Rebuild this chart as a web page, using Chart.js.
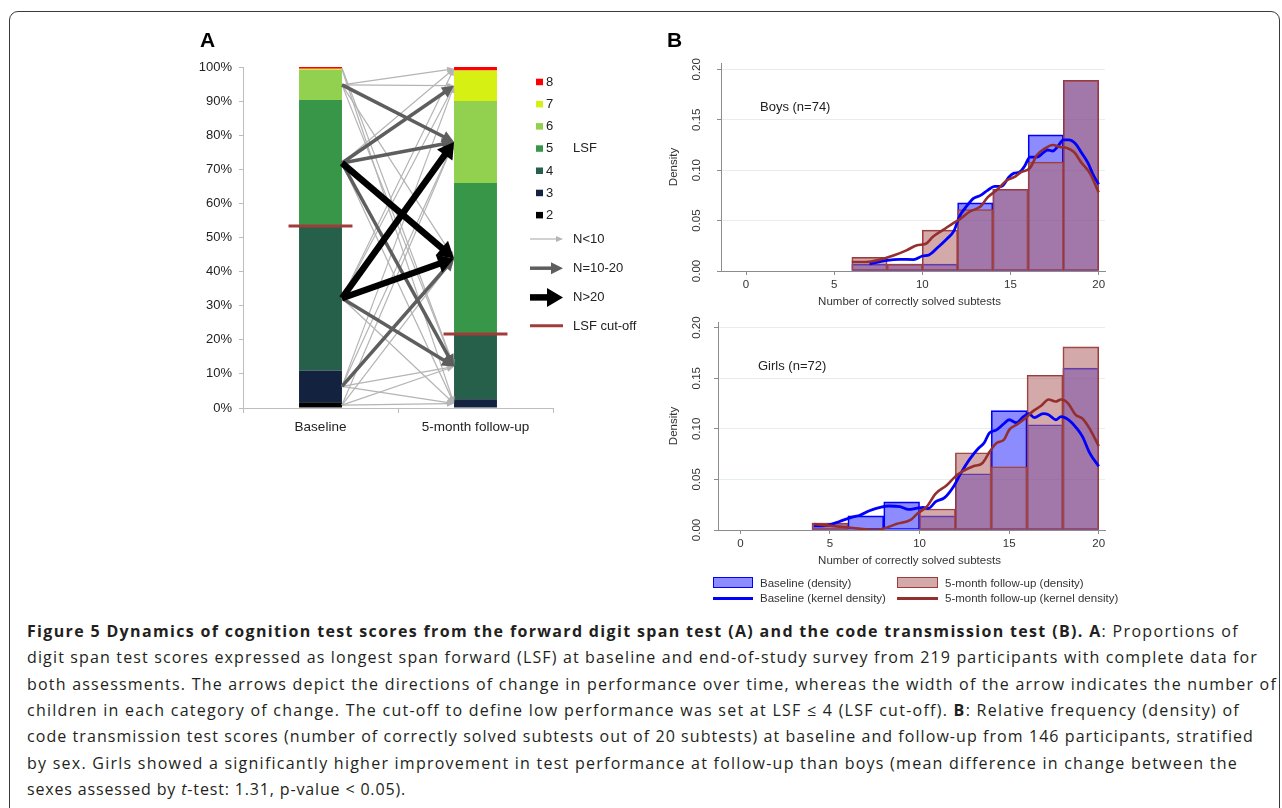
<!DOCTYPE html>
<html>
<head>
<meta charset="utf-8">
<script src="https://cdn.jsdelivr.net/npm/chart.js@4.4.0/dist/chart.umd.min.js"></script>
<style>
  body { margin: 0; background: #fff; width: 1282px; height: 808px; overflow: hidden; position: relative;
         font-family: "Liberation Sans", Arial, sans-serif; color: #222; }
  #frame { position: absolute; left: 9px; top: 11px; width: 1271px; height: 830px; border: 1.5px solid #3a3a3a;
           border-radius: 9px; box-sizing: border-box; }
  canvas { position: absolute; }
  .lg { position: absolute; font-size: 11.5px; line-height: 14px; white-space: nowrap; color: #333; }
  .sw { position: absolute; box-sizing: border-box; }
  .ln { position: absolute; left: 27px; white-space: nowrap; font-family: "Open Sans", sans-serif;
        font-size: 16px; line-height: 20px; color: #231f20; }
</style>
</head>
<body>
<div id="frame"></div>
<canvas id="chartA" width="460" height="430" style="left:190px;top:20px"></canvas>
<canvas id="boys" width="460" height="290" style="left:660px;top:20px"></canvas>
<canvas id="girls" width="460" height="275" style="left:660px;top:300px"></canvas>

<div class="sw" style="left:713px;top:577px;width:40px;height:11px;background:rgba(0,0,255,0.45);border:1.5px solid #0000ff"></div>
<div class="lg" style="left:760px;top:576px">Baseline (density)</div>
<div class="sw" style="left:713px;top:597px;width:40px;height:3px;background:#0000ff"></div>
<div class="lg" style="left:760px;top:591px">Baseline (kernel density)</div>
<div class="sw" style="left:897px;top:577px;width:41px;height:11px;background:rgba(178,104,106,0.57);border:1.5px solid #9b3b3b"></div>
<div class="lg" style="left:945px;top:576px">5-month follow-up (density)</div>
<div class="sw" style="left:897px;top:597px;width:41px;height:3px;background:#952f2f"></div>
<div class="lg" style="left:945px;top:591px">5-month follow-up (kernel density)</div>

<div id="caption">
  <div class="ln" data-end="1239"><b>Figure 5 Dynamics of cognition test scores from the forward digit span test (A) and the code transmission test (B). A</b>: Proportions of</div>
  <div class="ln" data-end="1258">digit span test scores expressed as longest span forward (LSF) at baseline and end-of-study survey from 219 participants with complete data for</div>
  <div class="ln" data-end="1277">both assessments. The arrows depict the directions of change in performance over time, whereas the width of the arrow indicates the number of</div>
  <div class="ln" data-end="1240">children in each category of change. The cut-off to define low performance was set at LSF &le; 4 (LSF cut-off). <b>B</b>: Relative frequency (density) of</div>
  <div class="ln" data-end="1254">code transmission test scores (number of correctly solved subtests out of 20 subtests) at baseline and follow-up from 146 participants, stratified</div>
  <div class="ln" data-end="1238">by sex. Girls showed a significantly higher improvement in test performance at follow-up than boys (mean difference in change between the</div>
  <div class="ln" data-end="406">sexes assessed by <i>t</i>-test: 1.31, p-value &lt; 0.05).</div>
</div>

<script>
// ---- Panel A: longest span forward (LSF), % of children
const lsfLevels = ['2', '3', '4', '5', '6', '7', '8'];
const timepoints = ['Baseline', '5-month follow-up'];
const baselineShare = [1.7, 9.3, 42.4, 36.9, 8.9, 0.3, 0.5];
const followUpShare = [0.0, 2.6, 19.1, 44.3, 24.0, 9.0, 1.0];
const lsfCutoff = 4;
// transitions [from LSF, to LSF] by size class
const flowsSmall = [[8, 4], [7, 3], [6, 8], [6, 7], [6, 5], [6, 4], [5, 8], [5, 3], [4, 8], [4, 7], [4, 3],
                    [3, 7], [3, 6], [3, 4], [3, 3], [2, 6], [2, 5], [2, 4], [2, 3]];
const flowsMid = [[6, 6], [5, 7], [5, 6], [5, 4], [4, 4], [3, 5]];
const flowsBig = [[5, 5], [4, 6], [4, 5]];

// ---- Panel B: code transmission test, density per 2-point bin
const boysBins = [7, 9, 11, 13, 15, 17, 19];
const boysBaseline = [0.0068, 0.0068, 0.0068, 0.0676, 0.0811, 0.135, 0.189];
const boysFollowUp = [0.0135, 0.0068, 0.0405, 0.0608, 0.0811, 0.108, 0.189];
const girlsBins = [5, 7, 9, 11, 13, 15, 17, 19];
const girlsBaseline = [0.0069, 0.0139, 0.0278, 0.0139, 0.0556, 0.118, 0.104, 0.160];
const girlsFollowUp = [0.0069, 0, 0, 0.0208, 0.0764, 0.0625, 0.153, 0.181];

// kernel density curves, [score, density]
const boysBaselineKernel = [[7.0, 0.007], [8.0, 0.0106], [8.7, 0.0116], [9.5, 0.0113], [10.0, 0.0149], [10.4, 0.0162],
  [10.9, 0.0238], [11.4, 0.032], [11.8, 0.040], [12.1, 0.054], [12.5, 0.064], [12.9, 0.072], [13.3, 0.075], [13.7, 0.080],
  [14.1, 0.084], [14.5, 0.084], [14.9, 0.093], [15.2, 0.097], [15.5, 0.098], [15.8, 0.104], [16.1, 0.113], [16.5, 0.113],
  [16.9, 0.118], [17.1, 0.120], [17.4, 0.119], [17.7, 0.124], [18.0, 0.130], [18.3, 0.130], [18.7, 0.126], [19.0, 0.118],
  [19.4, 0.107], [19.7, 0.095], [20.0, 0.086]];
const boysFollowUpKernel = [[6.0, 0.0089], [6.8, 0.0089], [7.6, 0.0113], [8.4, 0.0156], [9.1, 0.0205], [9.7, 0.0255],
  [10.2, 0.027], [10.6, 0.034], [11.2, 0.041], [11.8, 0.048], [12.1, 0.051], [12.7, 0.059], [13.3, 0.064], [13.7, 0.073],
  [14.2, 0.080], [14.8, 0.090], [15.2, 0.093], [15.6, 0.098], [16.1, 0.102], [16.5, 0.115], [16.9, 0.121], [17.4, 0.125],
  [17.8, 0.123], [18.2, 0.122], [18.6, 0.118], [19.0, 0.108], [19.5, 0.097], [20.0, 0.078]];
const girlsBaselineKernel = [[4.1, 0.004], [4.6, 0.004], [5.1, 0.0059], [5.5, 0.0082], [6.2, 0.0125], [6.7, 0.0148],
  [7.2, 0.0191], [7.8, 0.0224], [8.3, 0.0237], [8.9, 0.0231], [9.4, 0.0204], [9.8, 0.0214], [10.2, 0.0224], [10.5, 0.0214],
  [10.9, 0.028], [11.4, 0.032], [11.9, 0.043], [12.3, 0.056], [12.8, 0.070], [13.3, 0.081], [13.6, 0.086], [13.9, 0.096],
  [14.3, 0.099], [14.7, 0.105], [15.0, 0.109], [15.4, 0.106], [15.8, 0.112], [16.1, 0.115], [16.4, 0.111], [16.9, 0.115],
  [17.2, 0.114], [17.6, 0.109], [17.9, 0.112], [18.3, 0.109], [18.8, 0.100], [19.1, 0.092], [19.5, 0.076], [20.0, 0.063]];
const girlsFollowUpKernel = [[4.1, 0.0059], [4.8, 0.0046], [5.5, 0.0033], [6.3, 0.002], [7.0, 0.0007], [7.6, 0.0],
  [8.2, 0.0026], [8.7, 0.0059], [9.5, 0.0099], [9.9, 0.0165], [10.4, 0.023], [10.9, 0.036], [11.5, 0.044], [12.0, 0.053],
  [12.4, 0.058], [13.0, 0.063], [13.5, 0.066], [13.9, 0.077], [14.3, 0.086], [14.7, 0.089], [15.0, 0.099], [15.5, 0.105],
  [16.0, 0.112], [16.3, 0.117], [16.8, 0.123], [17.2, 0.129], [17.6, 0.127], [17.9, 0.129], [18.3, 0.125], [18.7, 0.114],
  [19.1, 0.110], [19.5, 0.100], [20.0, 0.083]];

const FONT = '"Liberation Sans", Arial, sans-serif';
Chart.defaults.font.family = FONT;
Chart.defaults.animation = false;

const lsfColors = ['#000000', '#13233f', '#27604a', '#389649', '#92d050', '#d6f014', '#ff0000'];
const arrowStyles = {
  small: { w: 1.2, head: 7, headW: 6, color: '#b4b4b4' },
  mid: { w: 3.5, head: 12, headW: 12, color: '#5e5e5e' },
  big: { w: 6.5, head: 16, headW: 19, color: '#000000' }
};

function drawArrow(ctx, xa, ya, xb, yb, st) {
  const ang = Math.atan2(yb - ya, xb - xa);
  const len = Math.hypot(xb - xa, yb - ya);
  ctx.save();
  ctx.translate(xa, ya);
  ctx.rotate(ang);
  ctx.strokeStyle = st.color;
  ctx.fillStyle = st.color;
  ctx.lineWidth = st.w;
  ctx.beginPath();
  ctx.moveTo(0, 0);
  ctx.lineTo(len - st.head + 1, 0);
  ctx.stroke();
  ctx.beginPath();
  ctx.moveTo(len, 0);
  ctx.lineTo(len - st.head, -st.headW / 2);
  ctx.lineTo(len - st.head, st.headW / 2);
  ctx.closePath();
  ctx.fill();
  ctx.restore();
}

function segMid(shares, level) {
  const i = lsfLevels.indexOf(String(level));
  let s = 0;
  for (let k = 0; k < i; k++) s += shares[k];
  return s + shares[i] / 2;
}

const flowPlugin = {
  id: 'flows',
  afterDatasetsDraw(chart) {
    const ctx = chart.ctx;
    const ys = chart.scales.y;
    const bars = chart.getDatasetMeta(0).data;
    const x0 = bars[0].x + bars[0].width / 2;
    const x1 = bars[1].x - bars[1].width / 2;
    const sets = [[flowsSmall, 'small'], [flowsMid, 'mid'], [flowsBig, 'big']];
    sets.forEach(([list, key]) => {
      list.forEach(([from, to]) => {
        drawArrow(ctx, x0, ys.getPixelForValue(segMid(baselineShare, from)),
          x1, ys.getPixelForValue(segMid(followUpShare, to)), arrowStyles[key]);
      });
    });
    // LSF cut-off lines
    const nLow = lsfLevels.indexOf(String(lsfCutoff)) + 1;
    [baselineShare, followUpShare].forEach((shares, i) => {
      const low = shares.slice(0, nLow).reduce((a, b) => a + b, 0);
      const y = ys.getPixelForValue(low);
      ctx.save();
      ctx.strokeStyle = '#a03c3a';
      ctx.lineWidth = 3;
      ctx.beginPath();
      ctx.moveTo(bars[i].x - bars[i].width / 2 - 10.5, y);
      ctx.lineTo(bars[i].x + bars[i].width / 2 + 10.5, y);
      ctx.stroke();
      ctx.restore();
    });
  },
  afterDraw(chart) {
    const ctx = chart.ctx;
    const a = chart.chartArea;
    const lx = a.right - 17;
    ctx.save();
    ctx.font = 'bold 21px ' + FONT;
    ctx.fillStyle = '#000';
    ctx.textBaseline = 'alphabetic';
    ctx.fillText('A', 10, 27);
    ctx.font = '13px ' + FONT;
    ctx.fillStyle = '#222';
    ctx.textBaseline = 'middle';
    for (let i = lsfLevels.length - 1; i >= 0; i--) {
      const y = a.top + 14.7 + (lsfLevels.length - 1 - i) * 22.2;
      ctx.fillStyle = lsfColors[i];
      ctx.fillRect(lx, y - 3, 7, 6.5);
      ctx.fillStyle = '#222';
      ctx.fillText(lsfLevels[i], lx + 10, y + 0.5);
    }
    ctx.fillText('LSF', lx + 37, a.top + 81.5);
    const items = [['N<10', 'small'], ['N=10-20', 'mid'], ['N>20', 'big']];
    items.forEach(([txt, key], k) => {
      const y = a.top + 172 + k * 29.2;
      drawArrow(ctx, lx - 6, y, lx + 27, y, arrowStyles[key]);
      ctx.fillStyle = '#222';
      ctx.fillText(txt, lx + 37, y + 0.5);
    });
    const yc = a.top + 258.7;
    ctx.strokeStyle = '#a03c3a';
    ctx.lineWidth = 3;
    ctx.beginPath();
    ctx.moveTo(lx - 6, yc);
    ctx.lineTo(lx + 27, yc);
    ctx.stroke();
    ctx.fillText('LSF cut-off', lx + 37, yc + 0.5);
    ctx.restore();
  }
};

new Chart(document.getElementById('chartA'), {
  type: 'bar',
  data: {
    labels: timepoints,
    datasets: lsfLevels.map((lv, i) => ({
      label: lv,
      data: [baselineShare[i], followUpShare[i]],
      backgroundColor: lsfColors[i],
      borderWidth: 0,
      barPercentage: 0.277,
      categoryPercentage: 1
    }))
  },
  options: {
    responsive: false,
    layout: { padding: { left: 0, right: 97, top: 47, bottom: 0 } },
    scales: {
      x: {
        stacked: true,
        ticks: { color: '#222', font: { size: 13.5 }, padding: 6 },
        grid: { drawOnChartArea: false, drawTicks: true, tickLength: 5, color: '#bdbdbd' },
        border: { color: '#bdbdbd' },
        afterFit: s => { s.height = 42; }
      },
      y: {
        stacked: true,
        min: 0,
        max: 100,
        ticks: { stepSize: 10, color: '#222', font: { size: 13 }, padding: 7, callback: v => v + '%' },
        grid: { drawOnChartArea: false, drawTicks: true, tickLength: 4, color: '#bdbdbd' },
        border: { color: '#bdbdbd' },
        afterFit: s => { s.width = 53; }
      }
    },
    plugins: { legend: { display: false }, tooltip: { enabled: false } }
  },
  plugins: [flowPlugin]
});

const histText = {
  id: 'histText',
  afterDraw(chart, args, o) {
    const ctx = chart.ctx;
    const a = chart.chartArea;
    const ys = chart.scales.y;
    ctx.save();
    ctx.fillStyle = '#333';
    ctx.font = '11.5px ' + FONT;
    ctx.textAlign = 'center';
    ctx.textBaseline = 'middle';
    ys.ticks.forEach(t => {
      ctx.save();
      ctx.translate(36.5, ys.getPixelForValue(t.value));
      ctx.rotate(-Math.PI / 2);
      ctx.fillText(t.value.toFixed(2), 0, 0);
      ctx.restore();
    });
    ctx.save();
    ctx.translate(14, (a.top + a.bottom) / 2);
    ctx.rotate(-Math.PI / 2);
    ctx.fillText('Density', 0, 0);
    ctx.restore();
    ctx.fillText('Number of correctly solved subtests', 249.5, a.bottom + 31);
    ctx.textAlign = 'left';
    ctx.font = '13px ' + FONT;
    ctx.fillStyle = '#222';
    ctx.fillText(o.label, o.lx, o.ly);
    if (o.panel) {
      ctx.font = 'bold 21px ' + FONT;
      ctx.fillStyle = '#000';
      ctx.textBaseline = 'alphabetic';
      ctx.fillText(o.panel, 7, 27);
    }
    ctx.restore();
  }
};

function histChart(id, bins, base, follow, kBase, kFollow, o) {
  const barCommon = { grouped: false, barPercentage: 1, categoryPercentage: 1, borderWidth: 1, borderSkipped: false };
  new Chart(document.getElementById(id), {
    type: 'bar',
    data: {
      datasets: [
        { type: 'line', data: kFollow.map(p => ({ x: p[0], y: p[1] })), borderColor: '#952f2f', borderWidth: 2.6,
          pointRadius: 0, cubicInterpolationMode: 'monotone', order: 0 },
        { type: 'line', data: kBase.map(p => ({ x: p[0], y: p[1] })), borderColor: '#0000ff', borderWidth: 2.8,
          pointRadius: 0, cubicInterpolationMode: 'monotone', order: 1 },
        Object.assign({ data: bins.map((c, i) => ({ x: c, y: follow[i] })), backgroundColor: 'rgba(178,104,106,0.57)',
          borderColor: '#9b3b3b', order: 2 }, barCommon),
        Object.assign({ data: bins.map((c, i) => ({ x: c, y: base[i] })), backgroundColor: 'rgba(0,0,255,0.45)',
          borderColor: '#0000ff', order: 3 }, barCommon)
      ]
    },
    options: {
      responsive: false,
      layout: { padding: { left: 0, right: 15, top: o.padTop, bottom: 0 } },
      scales: {
        x: {
          type: 'linear', min: o.xmin, max: o.xmax, offset: false,
          ticks: { stepSize: 5, includeBounds: false, padding: 3, color: '#333', font: { size: 11.5 }, maxRotation: 0 },
          grid: { drawOnChartArea: false, drawTicks: true, tickLength: 4, tickColor: '#8c8c8c', offset: false },
          border: { color: '#8c8c8c' },
          afterFit: s => { s.height = o.xh; }
        },
        y: {
          min: 0, max: o.ymax,
          ticks: { stepSize: 0.05, includeBounds: false, display: false },
          grid: { color: '#e6eeee', tickColor: '#8c8c8c', tickLength: 4, drawTicks: true },
          border: { color: '#8c8c8c' },
          afterFit: s => { s.width = o.yw; }
        }
      },
      plugins: {
        legend: { display: false },
        tooltip: { enabled: false },
        histText: { label: o.label, lx: o.lx, ly: o.ly, panel: o.panel }
      }
    },
    plugins: [histText]
  });
}

histChart('boys', boysBins, boysBaseline, boysFollowUp, boysBaselineKernel, boysFollowUpKernel,
  { padTop: 43, xh: 39, yw: 61, xmin: -1.42, xmax: 20.36, ymax: 0.2063, label: 'Boys (n=74)', lx: 100, ly: 87.5, panel: 'B' });
histChart('girls', girlsBins, girlsBaseline, girlsFollowUp, girlsBaselineKernel, girlsFollowUpKernel,
  { padTop: 22, xh: 45, yw: 58, xmin: -1.25, xmax: 20.35, ymax: 0.2056, label: 'Girls (n=72)', lx: 98, ly: 66.5 });

// caption lines: fixed line positions, spacing fitted to the printed line ends
document.querySelectorAll('.ln').forEach((el, i) => {
  el.style.top = (621 + i * 26.3) + 'px';
  const w = el.getBoundingClientRect().width;
  const target = +el.dataset.end - 27;
  const n = el.textContent.length;
  el.style.letterSpacing = ((target - w) / n).toFixed(3) + 'px';
});
</script>
</body>
</html>
